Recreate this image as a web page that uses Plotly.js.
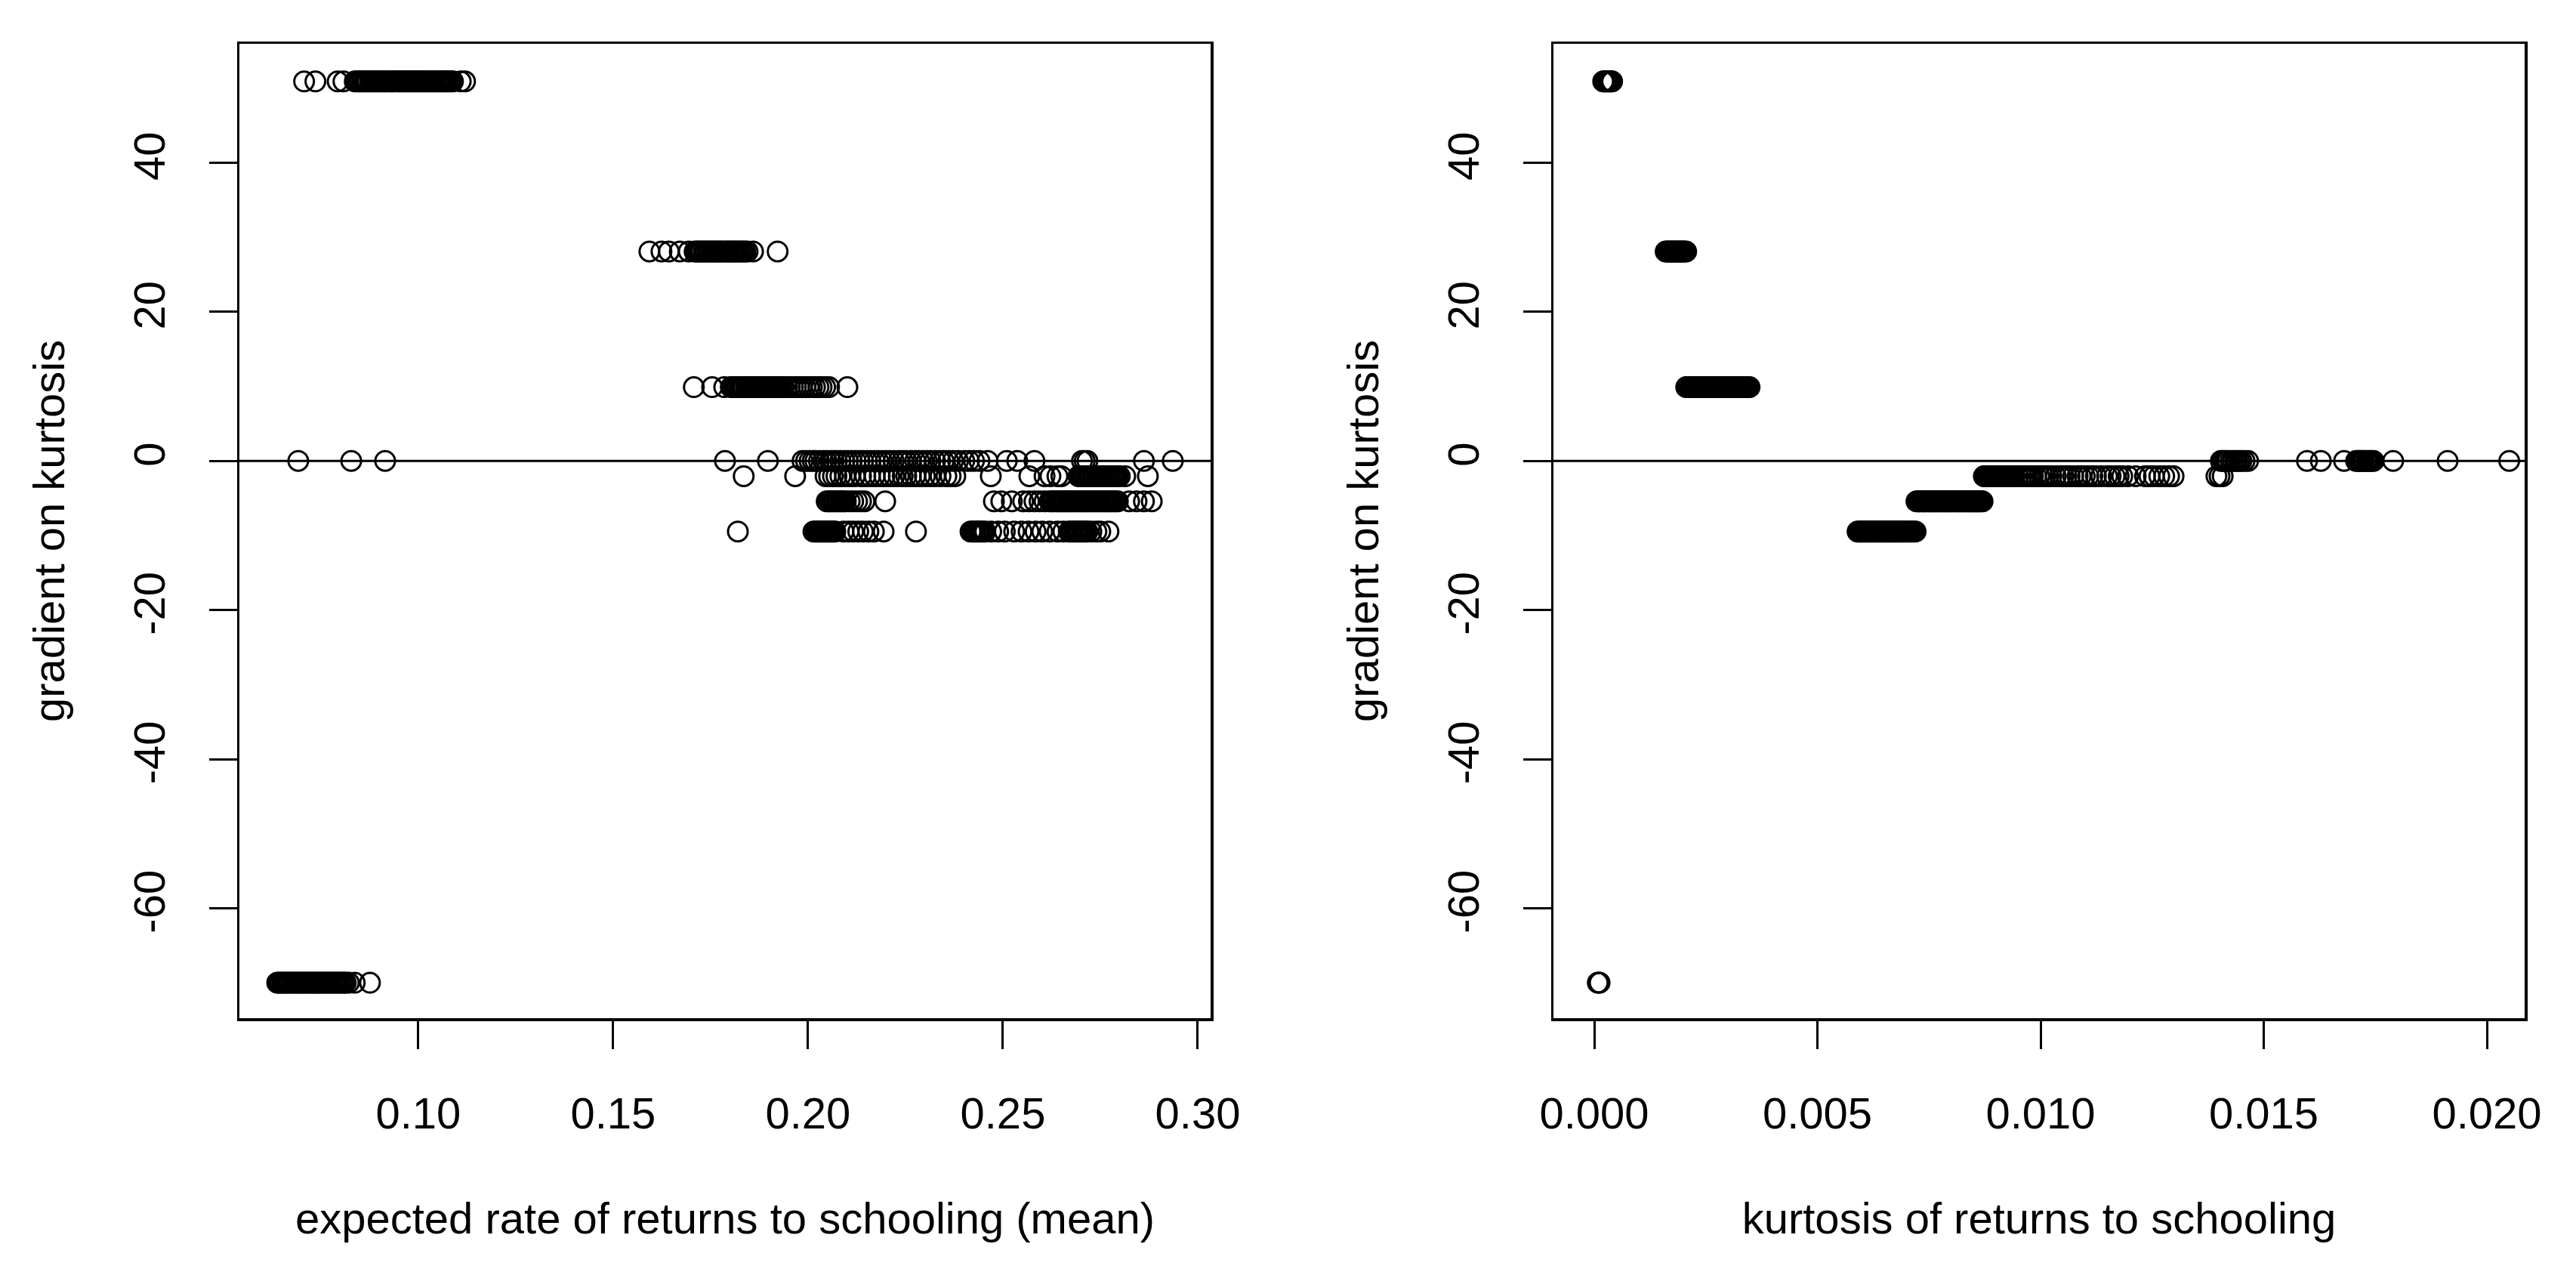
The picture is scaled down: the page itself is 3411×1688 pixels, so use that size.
<!DOCTYPE html>
<html>
<head>
<meta charset="utf-8">
<script src="https://cdn.plot.ly/plotly-3.0.1.min.js"></script>
<style>
  html, body { margin: 0; padding: 0; background: #fff; }
  #chart { width: 3411px; height: 1688px; }
</style>
</head>
<body>
<div id="chart"></div>
<script>
// gradient levels (rows of points), shared by both panels
const gradLevels = [50.9, 28.1, 9.9, 0, -2.05, -5.42, -9.47, -70];

// left panel: expected rate of returns to schooling (mean), one array per gradient row
const mean_g51 = [0.0707, 0.0736, 0.0793, 0.0808, 0.0837, 0.0841, 0.0847, 0.0851, 0.0856, 0.0862,
  0.0866, 0.0870, 0.0876, 0.0880, 0.0885, 0.0889, 0.0895, 0.0899, 0.0903, 0.0908, 0.0913, 0.0917,
  0.0922, 0.0928, 0.0931, 0.0936, 0.0940, 0.0946, 0.0950, 0.0953, 0.0958, 0.0963, 0.0967, 0.0972,
  0.0976, 0.0981, 0.0985, 0.0990, 0.0994, 0.0999, 0.1004, 0.1008, 0.1012, 0.1017, 0.1022, 0.1027,
  0.1031, 0.1035, 0.1040, 0.1045, 0.1050, 0.1054, 0.1058, 0.1062, 0.1066, 0.1071, 0.1074, 0.1079,
  0.1084, 0.1089, 0.1109, 0.1120];
const mean_g28 = [0.1593, 0.1624, 0.1643, 0.1671, 0.1694, 0.1709, 0.1714, 0.1718, 0.1723, 0.1727,
  0.1733, 0.1737, 0.1742, 0.1747, 0.1752, 0.1756, 0.1761, 0.1766, 0.1771, 0.1775, 0.1780, 0.1785,
  0.1791, 0.1795, 0.1800, 0.1805, 0.1810, 0.1814, 0.1819, 0.1824, 0.1829, 0.1834, 0.1839, 0.1845,
  0.1859, 0.1922];
const mean_g10 = [0.1707, 0.1754, 0.1785, 0.1802, 0.1806, 0.1811, 0.1816, 0.1820, 0.1825, 0.1830,
  0.1835, 0.1841, 0.1845, 0.1850, 0.1856, 0.1860, 0.1864, 0.1869, 0.1874, 0.1879, 0.1884, 0.1888,
  0.1893, 0.1898, 0.1903, 0.1908, 0.1913, 0.1918, 0.1923, 0.1928, 0.1934, 0.1938, 0.1946, 0.1953,
  0.1961, 0.1969, 0.1977, 0.1984, 0.1993, 0.2002, 0.2010, 0.2018, 0.2027, 0.2035, 0.2044, 0.2054, 0.2101];
const mean_g0 = [0.0692, 0.0828, 0.0915, 0.1787, 0.1897, 0.1986, 0.1995, 0.2004, 0.2012, 0.2019,
  0.2028, 0.2039, 0.2047, 0.2058, 0.2066, 0.2074, 0.2083, 0.2093, 0.2102, 0.2112, 0.2122, 0.2132,
  0.2141, 0.2151, 0.2160, 0.2171, 0.2180, 0.2190, 0.2200, 0.2209, 0.2220, 0.2233, 0.2243, 0.2252,
  0.2263, 0.2275, 0.2285, 0.2295, 0.2305, 0.2314, 0.2326, 0.2339, 0.2348, 0.2360, 0.2372, 0.2385,
  0.2401, 0.2413, 0.2426, 0.2440, 0.2461, 0.2510, 0.2537, 0.2581, 0.2703, 0.2710, 0.2717, 0.2862, 0.2936];
const mean_gm2 = [0.1835, 0.1967, 0.2045, 0.2054, 0.2064, 0.2073, 0.2083, 0.2095, 0.2107, 0.2120,
  0.2136, 0.2147, 0.2159, 0.2171, 0.2184, 0.2196, 0.2209, 0.2221, 0.2233, 0.2243, 0.2252, 0.2264,
  0.2275, 0.2287, 0.2300, 0.2313, 0.2326, 0.2340, 0.2355, 0.2366, 0.2378, 0.2469, 0.2568, 0.2607,
  0.2622, 0.2640, 0.2650, 0.2694, 0.2699, 0.2703, 0.2708, 0.2713, 0.2718, 0.2722, 0.2727, 0.2732,
  0.2737, 0.2742, 0.2747, 0.2752, 0.2757, 0.2762, 0.2766, 0.2771, 0.2776, 0.2781, 0.2786, 0.2790,
  0.2795, 0.2800, 0.2814, 0.2872];
const mean_gm5 = [0.2048, 0.2053, 0.2058, 0.2063, 0.2068, 0.2073, 0.2078, 0.2083, 0.2087, 0.2092,
  0.2097, 0.2107, 0.2116, 0.2126, 0.2136, 0.2145, 0.2198, 0.2477, 0.2496, 0.2523, 0.2552, 0.2567,
  0.2581, 0.2594, 0.2607, 0.2620, 0.2625, 0.2630, 0.2636, 0.2640, 0.2645, 0.2650, 0.2655, 0.2659,
  0.2664, 0.2669, 0.2673, 0.2678, 0.2683, 0.2688, 0.2693, 0.2698, 0.2703, 0.2708, 0.2712, 0.2717,
  0.2722, 0.2727, 0.2732, 0.2737, 0.2741, 0.2746, 0.2751, 0.2756, 0.2761, 0.2766, 0.2770, 0.2775,
  0.2780, 0.2785, 0.2790, 0.2795, 0.2824, 0.2843, 0.2862, 0.2882];
const mean_gm9 = [0.1820, 0.2014, 0.2019, 0.2023, 0.2027, 0.2031, 0.2035, 0.2039, 0.2043, 0.2047,
  0.2051, 0.2054, 0.2058, 0.2062, 0.2066, 0.2070, 0.2091, 0.2104, 0.2116, 0.2129, 0.2141, 0.2155,
  0.2169, 0.2194, 0.2277, 0.2417, 0.2422, 0.2427, 0.2431, 0.2436, 0.2441, 0.2446, 0.2450, 0.2455,
  0.2470, 0.2488, 0.2505, 0.2529, 0.2548, 0.2566, 0.2584, 0.2601, 0.2620, 0.2640, 0.2655, 0.2669,
  0.2674, 0.2679, 0.2684, 0.2688, 0.2693, 0.2698, 0.2703, 0.2707, 0.2712, 0.2717, 0.2727, 0.2740,
  0.2750, 0.2771];
const mean_gm70 = [0.0638, 0.0642, 0.0646, 0.0651, 0.0655, 0.0660, 0.0664, 0.0668, 0.0673, 0.0678,
  0.0682, 0.0687, 0.0692, 0.0696, 0.0700, 0.0705, 0.0709, 0.0714, 0.0719, 0.0723, 0.0728, 0.0733,
  0.0737, 0.0741, 0.0746, 0.0750, 0.0755, 0.0760, 0.0764, 0.0769, 0.0773, 0.0778, 0.0783, 0.0787,
  0.0792, 0.0797, 0.0801, 0.0806, 0.0811, 0.0814, 0.0822, 0.0837, 0.0876];

// right panel: kurtosis of returns to schooling
const kurt_g51 = [0.00020, 0.00022, 0.00024, 0.00027, 0.00029, 0.00032, 0.00034, 0.00036, 0.00038, 0.00040];
const kurt_g28 = [0.00160, 0.00163, 0.00166, 0.00169, 0.00172, 0.00175, 0.00178, 0.00181, 0.00184,
  0.00187, 0.00190, 0.00193, 0.00196, 0.00199, 0.00202, 0.00206];
const kurt_g10 = [0.00206, 0.00209, 0.00213, 0.00216, 0.00219, 0.00222, 0.00226, 0.00229, 0.00232,
  0.00236, 0.00239, 0.00243, 0.00246, 0.00250, 0.00253, 0.00257, 0.00260, 0.00264, 0.00267, 0.00271,
  0.00274, 0.00278, 0.00281, 0.00285, 0.00288, 0.00292, 0.00295, 0.00299, 0.00302, 0.00306, 0.00309,
  0.00313, 0.00316, 0.00320, 0.00323, 0.00327, 0.00330, 0.00334, 0.00337, 0.00341, 0.00344, 0.00348];
const kurt_g0 = [0.01404, 0.01408, 0.01412, 0.01416, 0.01420, 0.01426, 0.01431, 0.01436, 0.01440,
  0.01445, 0.01450, 0.01457, 0.01465, 0.01597, 0.01628, 0.01680, 0.01707, 0.01711, 0.01714, 0.01718,
  0.01721, 0.01725, 0.01730, 0.01734, 0.01738, 0.01742, 0.01746, 0.01790, 0.01912, 0.02050];
const kurt_gm2 = [0.00873, 0.00876, 0.00880, 0.00883, 0.00887, 0.00890, 0.00893, 0.00897, 0.00900,
  0.00904, 0.00907, 0.00911, 0.00914, 0.00918, 0.00921, 0.00925, 0.00929, 0.00932, 0.00936, 0.00939,
  0.00942, 0.00950, 0.00957, 0.00963, 0.00968, 0.00973, 0.00978, 0.00983, 0.00990, 0.00997, 0.01004,
  0.01010, 0.01017, 0.01024, 0.01034, 0.01044, 0.01051, 0.01058, 0.01065, 0.01073, 0.01083, 0.01090,
  0.01099, 0.01107, 0.01116, 0.01124, 0.01136, 0.01149, 0.01157, 0.01166, 0.01175, 0.01183, 0.01196,
  0.01213, 0.01234, 0.01244, 0.01254, 0.01266, 0.01277, 0.01288, 0.01298, 0.01394, 0.01401, 0.01408];
const kurt_gm5 = [0.00722, 0.00725, 0.00728, 0.00731, 0.00735, 0.00738, 0.00741, 0.00744, 0.00748,
  0.00751, 0.00754, 0.00757, 0.00760, 0.00763, 0.00766, 0.00769, 0.00772, 0.00776, 0.00779, 0.00782,
  0.00785, 0.00788, 0.00791, 0.00794, 0.00797, 0.00800, 0.00803, 0.00807, 0.00810, 0.00813, 0.00816,
  0.00819, 0.00822, 0.00825, 0.00828, 0.00831, 0.00835, 0.00838, 0.00841, 0.00844, 0.00847, 0.00850,
  0.00853, 0.00856, 0.00858, 0.00861, 0.00864, 0.00867, 0.00870];
const kurt_gm9 = [0.00590, 0.00593, 0.00596, 0.00599, 0.00602, 0.00605, 0.00609, 0.00612, 0.00615,
  0.00618, 0.00621, 0.00624, 0.00628, 0.00631, 0.00634, 0.00637, 0.00640, 0.00643, 0.00646, 0.00649,
  0.00652, 0.00655, 0.00659, 0.00662, 0.00665, 0.00668, 0.00671, 0.00674, 0.00677, 0.00680, 0.00684,
  0.00687, 0.00690, 0.00693, 0.00697, 0.00701, 0.00705, 0.00708, 0.00712, 0.00716, 0.00720];
const kurt_gm70 = [0.00008, 0.00010, 0.00012];

const meanTicks = [0.10, 0.15, 0.20, 0.25, 0.30];
const meanTickText = ['0.10', '0.15', '0.20', '0.25', '0.30'];
const kurtTicks = [0.000, 0.005, 0.010, 0.015, 0.020];
const kurtTickText = ['0.000', '0.005', '0.010', '0.015', '0.020'];
const gradTicks = [-60, -40, -20, 0, 20, 40];
const gradTickText = ['-60', '-40', '-20', '0', '20', '40'];

const meanRows = [mean_g51, mean_g28, mean_g10, mean_g0, mean_gm2, mean_gm5, mean_gm9, mean_gm70];
const kurtRows = [kurt_g51, kurt_g28, kurt_g10, kurt_g0, kurt_gm2, kurt_gm5, kurt_gm9, kurt_gm70];

function flatten(rows) {
  const xs = [], ys = [];
  rows.forEach((row, i) => {
    row.forEach(v => { xs.push(v); ys.push(gradLevels[i]); });
  });
  return { xs, ys };
}

const W = 3411, H = 1688;
const FONT = 'Liberation Sans, Arial, sans-serif';
const fsize = 58;

const marker = {
  symbol: 'circle-open',
  size: 26,
  color: '#000',
  line: { color: '#000', width: 3 }
};

const left = flatten(meanRows);
const right = flatten(kurtRows);

const traces = [
  { x: left.xs, y: left.ys, type: 'scatter', mode: 'markers', marker: marker, xaxis: 'x', yaxis: 'y' },
  { x: right.xs, y: right.ys, type: 'scatter', mode: 'markers', marker: marker, xaxis: 'x2', yaxis: 'y2' }
];

function xAxis(domain, range, vals, text, title) {
  return {
    domain: domain,
    range: range,
    tickmode: 'array',
    tickvals: vals,
    ticktext: text,
    ticks: 'outside',
    ticklen: 37,
    tickwidth: 3,
    tickcolor: '#000',
    ticklabelstandoff: 36,
    tickfont: { family: FONT, size: fsize, color: '#000' },
    showline: true,
    linecolor: '#000',
    linewidth: 3.5,
    mirror: true,
    showgrid: false,
    zeroline: false,
    automargin: false,
    title: { text: title, font: { family: FONT, size: fsize, color: '#000' }, standoff: 88 }
  };
}

function yAxis(anchor) {
  return {
    domain: [340 / H, 1630 / H],
    range: [-74.75, 55.95],
    anchor: anchor,
    tickmode: 'array',
    tickvals: gradTicks,
    ticktext: gradTickText,
    tickangle: -90,
    ticks: 'outside',
    ticklen: 37,
    tickwidth: 3,
    tickcolor: '#000',
    ticklabelstandoff: 35,
    tickfont: { family: FONT, size: fsize, color: '#000' },
    showline: true,
    linecolor: '#000',
    linewidth: 3.5,
    mirror: true,
    showgrid: false,
    zeroline: false,
    automargin: false,
    title: { text: 'gradient on kurtosis', font: { family: FONT, size: fsize, color: '#000' }, standoff: 62 }
  };
}

const layout = {
  width: W,
  height: H,
  margin: { l: 0, r: 0, t: 0, b: 0 },
  paper_bgcolor: '#fff',
  plot_bgcolor: '#fff',
  showlegend: false,
  xaxis: Object.assign(xAxis([317 / W, 1603 / W], [0.0541, 0.3033], meanTicks, meanTickText,
    'expected rate of returns to schooling (mean)'), { anchor: 'y' }),
  yaxis: yAxis('x'),
  xaxis2: Object.assign(xAxis([2057 / W, 3343 / W], [-0.000914, 0.020846], kurtTicks, kurtTickText,
    'kurtosis of returns to schooling'), { anchor: 'y2' }),
  yaxis2: yAxis('x2'),
  // abline(h = 0) on both panels
  shapes: [
    { type: 'line', xref: 'x domain', yref: 'y', x0: 0, x1: 1, y0: 0, y1: 0, line: { color: '#000', width: 3 } },
    { type: 'line', xref: 'x2 domain', yref: 'y2', x0: 0, x1: 1, y0: 0, y1: 0, line: { color: '#000', width: 3 } }
  ]
};

Plotly.newPlot('chart', traces, layout, { displayModeBar: false, staticPlot: true });
</script>
</body>
</html>
